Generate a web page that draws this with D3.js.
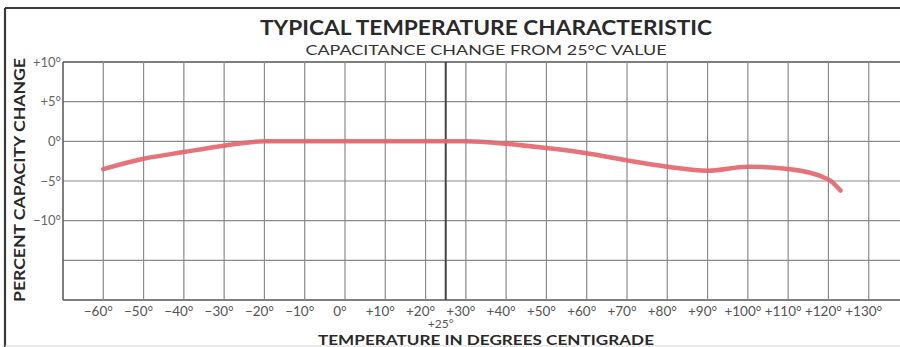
<!DOCTYPE html>
<html>
<head>
<meta charset="utf-8">
<script src="https://cdn.jsdelivr.net/npm/d3@7"></script>
<style>
  html, body { margin: 0; padding: 0; background: #fff; }
  svg { display: block; }
  text { font-family: Lato, "DejaVu Sans", sans-serif; }
</style>
</head>
<body>
<svg id="chart" width="900" height="347"></svg>
<script>
// Temperature (°C) and percent capacitance change relative to the 25°C value
const temps  = [-60, -50, -40, -30, -20, -10, 0, 10, 20, 25, 30, 40, 50, 60, 70, 80, 90, 100, 110, 120, 123];
const change = [-3.5, -2.2, -1.35, -0.55, 0, 0, 0, 0, 0, 0, 0, -0.3, -0.85, -1.5, -2.4, -3.2, -3.7, -3.2, -3.5, -4.8, -6.2];

// Grid and tick definitions
const xGrid = [-60, -50, -40, -30, -20, -10, 0, 10, 20, 30, 40, 50, 60, 70, 80, 90, 100, 110, 120, 130, 140];
const xTickLabels = ["\u221260\u00b0", "\u221250\u00b0", "\u221240\u00b0", "\u221230\u00b0", "\u221220\u00b0", "\u221210\u00b0",
  "0\u00b0", "+10\u00b0", "+20\u00b0", "+30\u00b0", "+40\u00b0", "+50\u00b0", "+60\u00b0", "+70\u00b0", "+80\u00b0",
  "+90\u00b0", "+100\u00b0", "+110\u00b0", "+120\u00b0", "+130\u00b0"];
const xTickValues = [-60, -50, -40, -30, -20, -10, 0, 10, 20, 30, 40, 50, 60, 70, 80, 90, 100, 110, 120, 130];
const refTemp = 25;
const refLabel = "+25\u00b0";
const yGrid = [10, 5, 0, -5, -10, -15, -20];
const yTickValues = [10, 5, 0, -5, -10];
const yTickLabels = ["+10\u00b0", "+5\u00b0", "0\u00b0", "\u22125\u00b0", "\u221210\u00b0"];

const title = "TYPICAL TEMPERATURE CHARACTERISTIC";
const subtitle = "CAPACITANCE CHANGE FROM 25\u00b0C VALUE";
const xTitle = "TEMPERATURE IN DEGREES CENTIGRADE";
const yTitle = "PERCENT CAPACITY CHANGE";

const svg = d3.select("#chart");

const x = d3.scaleLinear().domain([-70, 140]).range([63, 909]);
const y = d3.scaleLinear().domain([-20, 10]).range([300, 62]);

// Outer frame
svg.append("line").attr("x1", 5).attr("x2", 900).attr("y1", 8).attr("y2", 8)
  .attr("stroke", "#3a3a3a").attr("stroke-width", 2);
svg.append("line").attr("x1", 5).attr("x2", 5).attr("y1", 8).attr("y2", 347)
  .attr("stroke", "#3a3a3a").attr("stroke-width", 2.2);
svg.append("line").attr("x1", 5).attr("x2", 900).attr("y1", 346).attr("y2", 346)
  .attr("stroke", "#d8d8d8").attr("stroke-width", 1);

// Titles
svg.append("text").attr("x", 486).attr("y", 35).attr("text-anchor", "middle")
  .attr("font-size", 21).attr("font-weight", 700).attr("fill", "#2a2a2a")
  .attr("textLength", 452).attr("lengthAdjust", "spacingAndGlyphs").text(title);
svg.append("text").attr("x", 486).attr("y", 55).attr("text-anchor", "middle")
  .attr("font-size", 14).attr("font-weight", 400).attr("fill", "#333")
  .attr("textLength", 361).attr("lengthAdjust", "spacingAndGlyphs").text(subtitle);

// Grid
const grid = svg.append("g");
grid.selectAll("line.h").data(yGrid).join("line").attr("class", "h")
  .attr("x1", x(-70)).attr("x2", 900).attr("y1", d => y(d)).attr("y2", d => y(d))
  .attr("stroke", d => (d === 10 || d === -20) ? "#555" : "#8a8a8a")
  .attr("stroke-width", d => (d === 10 || d === -20) ? 1.5 : 1.2);
grid.selectAll("line.v").data(xGrid).join("line").attr("class", "v")
  .attr("x1", d => x(d)).attr("x2", d => x(d)).attr("y1", y(10)).attr("y2", y(-20))
  .attr("stroke", "#8a8a8a").attr("stroke-width", 1.2);
grid.append("line").attr("x1", x(-70)).attr("x2", x(-70)).attr("y1", y(10)).attr("y2", y(-20))
  .attr("stroke", "#555").attr("stroke-width", 1.5);
grid.append("line").attr("x1", x(refTemp)).attr("x2", x(refTemp)).attr("y1", y(10)).attr("y2", y(-20))
  .attr("stroke", "#444").attr("stroke-width", 2);

// Y tick labels
svg.append("g").selectAll("text").data(yTickValues).join("text")
  .attr("x", 61).attr("y", d => y(d)).attr("dy", "0.36em").attr("text-anchor", "end")
  .attr("font-size", 13).attr("fill", "#666")
  .text((d, i) => yTickLabels[i]);

// X tick labels
svg.append("g").selectAll("text").data(xTickValues).join("text")
  .attr("x", d => x(d) - 5).attr("y", 316).attr("text-anchor", "middle")
  .attr("font-size", 13.5).attr("fill", "#555")
  .text((d, i) => xTickLabels[i]);
svg.append("text").attr("x", x(refTemp) - 5).attr("y", 328).attr("text-anchor", "middle")
  .attr("font-size", 12).attr("fill", "#555").text(refLabel);

// Axis titles
svg.append("text").attr("x", 486).attr("y", 344.5).attr("text-anchor", "middle")
  .attr("font-size", 13).attr("font-weight", 700).attr("fill", "#2a2a2a")
  .attr("textLength", 336).attr("lengthAdjust", "spacingAndGlyphs").text(xTitle);
svg.append("text").attr("transform", "translate(25,180) rotate(-90)").attr("text-anchor", "middle")
  .attr("font-size", 16).attr("font-weight", 700).attr("fill", "#2a2a2a")
  .attr("textLength", 244).attr("lengthAdjust", "spacingAndGlyphs").text(yTitle);

// Characteristic curve
const pts = temps.map((t, i) => [t, change[i]]);
const line = d3.line().x(d => x(d[0])).y(d => y(d[1])).curve(d3.curveMonotoneX);
svg.append("path").datum(pts).attr("d", line)
  .attr("fill", "none").attr("stroke", "#e2646a").attr("stroke-opacity", 0.9)
  .attr("stroke-width", 4.5).attr("stroke-linecap", "round").attr("stroke-linejoin", "round");
</script>
</body>
</html>
